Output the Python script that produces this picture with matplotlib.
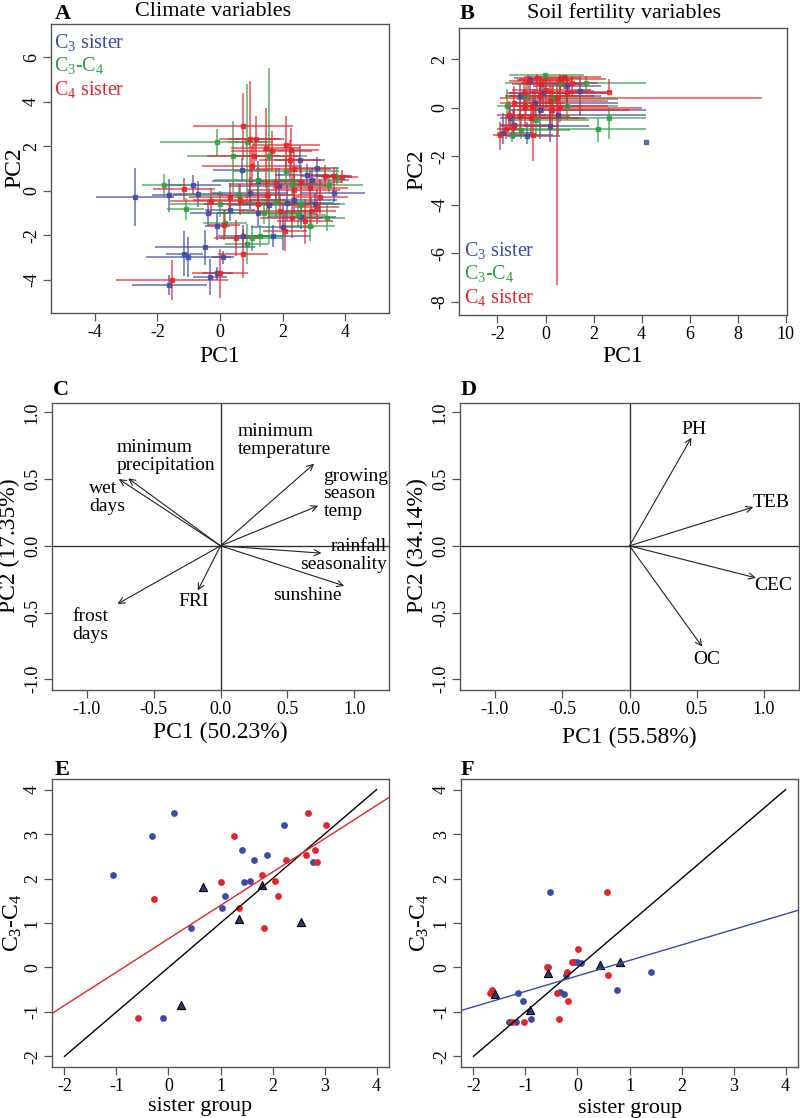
import matplotlib
matplotlib.use('Agg')
import matplotlib.pyplot as plt
import numpy as np

plt.rcParams['font.family'] = ['Liberation Serif', 'DejaVu Serif']
plt.rcParams['mathtext.fontset'] = 'custom'
plt.rcParams['mathtext.rm'] = 'Liberation Serif'
plt.rcParams['mathtext.it'] = 'Liberation Serif:italic'
plt.rcParams['axes.unicode_minus'] = False

BLUE = '#3b4ba6'
GREEN = '#2e9f40'
RED = '#e4232a'
NAVY = '#2b3b80'
FRAME = '#555555'

# ---- panel A: climate PCA, group means with (x, y, dx, dy)
a_c3 = [(-2.72, -0.30, 1.25, 1.3), (-1.62, -0.21, 0.55, 0.75), (-1.14, -2.83, 0.6, 1.0),
        (-1.01, -3.00, 1.35, 0.9), (-1.62, -4.24, 1.2, 0.45), (-0.48, -2.55, 1.6, 0.8),
        (-0.32, -3.88, 0.55, 0.8), (-0.09, -1.60, 0.4, 0.6), (0.11, -2.99, 0.35, 0.3),
        (-0.09, -3.71, 0.5, 0.3), (-0.37, -1.00, 0.6, 0.6), (-0.71, -0.15, 0.8, 0.6),
        (-0.87, 0.24, 0.9, 0.45), (0.69, 0.95, 0.9, 0.5), (0.32, -0.85, 0.8, 0.5),
        (0.96, -0.10, 1.2, 0.7), (1.23, 0.42, 1.5, 0.9), (1.23, -1.00, 1.3, 0.6),
        (0.75, -2.05, 0.8, 0.5), (1.70, -2.05, 1.2, 0.5), (2.00, -1.65, 1.0, 1.0),
        (2.56, 1.40, 0.8, 0.6), (2.77, 0.72, 1.0, 0.5), (3.11, 1.02, 0.7, 0.5),
        (3.63, -0.10, 1.0, 0.4), (2.13, -0.55, 1.5, 0.8), (1.55, -0.63, 1.3, 0.6),
        (2.35, -0.40, 1.4, 0.6), (2.93, 0.50, 1.2, 0.5), (3.05, -0.60, 0.8, 0.5),
        (1.90, 0.20, 1.6, 0.8), (2.60, -1.20, 1.1, 0.5)]
a_c3c4 = [(-1.78, 0.27, 0.7, 0.5), (-1.10, -0.82, 0.6, 0.5), (-0.11, 2.18, 1.8, 0.6),
          (0.43, 1.55, 1.5, 1.6), (0.87, -2.40, 0.7, 0.9), (1.01, -2.13, 1.0, 0.6),
          (1.28, -2.05, 0.8, 0.5), (1.58, 1.55, 1.2, 3.95), (0.00, -0.59, 1.6, 0.6),
          (1.80, -0.50, 1.2, 0.7), (2.30, 0.30, 1.3, 0.5), (2.88, -1.58, 0.8, 0.7),
          (3.41, -1.23, 0.6, 0.6), (3.47, 0.27, 1.1, 0.4), (2.60, -0.60, 1.4, 0.6),
          (0.16, -1.45, 0.7, 0.6), (1.40, -1.00, 1.5, 0.5), (2.50, -1.10, 0.9, 0.5),
          (1.20, 0.50, 1.4, 0.6), (0.87, 2.20, 0.6, 2.6), (3.73, 0.64, 0.5, 0.4),
          (2.10, 0.90, 1.7, 0.6), (0.60, -0.20, 1.8, 0.5)]
a_c4 = [(-1.15, 0.09, 1.0, 0.5), (-1.53, -4.00, 1.8, 0.9), (0.00, -3.71, 0.9, 1.1),
        (-0.29, -0.48, 1.3, 0.6), (0.13, -1.53, 0.5, 0.7), (0.51, -2.13, 0.7, 0.8),
        (0.73, -2.84, 0.8, 1.1), (0.73, 2.90, 1.6, 1.5), (0.96, 2.34, 1.0, 2.6),
        (1.14, 2.34, 0.9, 1.0), (1.46, 1.92, 1.1, 1.8), (1.65, 1.77, 1.3, 0.9),
        (2.11, 2.07, 1.1, 1.3), (2.27, 1.82, 0.9, 1.0), (1.10, 1.55, 1.5, 0.6),
        (1.01, 1.13, 1.6, 0.9), (2.24, 1.40, 1.0, 0.9), (2.35, 0.98, 1.2, 0.8),
        (3.63, 0.68, 0.6, 0.4), (3.36, 0.65, 0.8, 0.5), (2.88, 0.12, 1.2, 0.8),
        (3.20, -0.26, 0.9, 0.8), (2.35, 0.05, 1.5, 0.7), (0.32, -0.26, 1.3, 0.6),
        (0.64, -0.41, 1.5, 0.7), (1.92, -0.93, 1.3, 0.8), (2.29, -1.23, 1.0, 0.9),
        (3.09, -0.71, 0.7, 0.8), (2.72, -1.38, 0.9, 1.0), (2.08, -1.83, 0.7, 0.9),
        (1.50, -0.20, 1.6, 0.7), (2.90, -0.90, 0.8, 0.6), (3.90, 0.64, 0.5, 0.3),
        (1.80, 0.30, 1.5, 0.7), (2.60, 0.40, 1.3, 0.6), (1.20, -0.60, 1.7, 0.5)]

# ---- panel B: soil PCA, (x, y, xlo, xhi, ylo, yhi)
b_c3 = [(4.19, -1.40, 4.19, 4.19, -1.40, -1.40), (1.42, 0.69, 0.8, 2.0, -0.34, 1.30),
        (-1.76, -1.03, -2.0, -0.5, -1.5, -0.2), (-1.48, -0.41, -1.9, 1.4, -0.9, 0.2),
        (-1.07, 0.48, -1.7, 2.3, -0.5, 1.0), (-0.65, 1.17, -1.2, 1.1, 0.3, 1.3),
        (-0.24, -0.07, -1.5, 4.2, -1.3, 0.9), (0.18, -0.76, -0.9, 1.8, -1.4, 0.0),
        (-0.79, -1.17, -1.6, 0.6, -1.5, -0.6), (0.90, 0.90, -0.5, 2.3, 0.2, 1.3),
        (-0.45, 0.20, -1.3, 3.0, -0.4, 0.8), (-0.10, 0.60, -1.5, 2.5, -0.2, 1.2),
        (-1.30, -0.70, -1.9, 0.2, -1.3, 0.0), (0.50, -0.30, -1.0, 4.2, -1.1, 0.4)]
b_c3c4 = [(2.19, -0.85, -1.9, 4.2, -1.4, -0.4), (2.64, -0.41, -1.2, 4.2, -1.3, 0.0),
          (1.67, 1.03, -1.7, 4.2, 0.6, 1.3), (-0.03, 1.37, -1.5, 1.6, 0.8, 1.4),
          (-1.40, -1.10, -2.0, -0.3, -1.4, -0.5), (-0.80, 0.50, -1.7, 1.3, -0.3, 1.1),
          (-0.40, -0.50, -1.3, 1.8, -1.2, 0.3), (-1.60, 0.10, -2.0, 0.5, -0.4, 0.8),
          (0.30, 0.35, -1.2, 3.0, -0.3, 1.0), (0.90, 0.10, -0.6, 3.0, -0.5, 0.8),
          (-1.00, -0.90, -1.8, 1.0, -1.3, -0.3), (0.60, 1.00, -0.8, 1.5, 0.4, 1.4)]
b_c4 = [(2.64, 0.67, -0.7, 2.64, 0.67, 1.2), (0.46, 0.41, -1.89, 9.0, -7.31, 1.17),
        (1.12, 1.03, -1.0, 2.2, 0.5, 1.3), (0.76, 1.26, -0.9, 2.3, 0.8, 1.3),
        (0.60, 1.20, -1.1, 2.5, 0.7, 1.35), (-0.37, 1.24, -1.3, 1.4, 0.6, 1.4),
        (-0.72, 1.10, -1.5, 1.0, 0.3, 1.35), (-1.89, -1.10, -2.2, -1.3, -1.75, -0.6),
        (-1.65, -0.89, -2.0, -1.0, -1.3, -0.3), (-1.34, -0.76, -1.9, 0.5, -1.3, -0.1),
        (-1.07, -0.34, -1.6, 1.0, -1.0, 0.4), (-0.54, -1.10, -1.3, 0.3, -2.2, 0.0),
        (-0.51, 0.07, -1.6, 2.6, -0.6, 0.8), (-0.24, 0.48, -1.5, 2.0, -0.3, 1.2),
        (0.04, 0.76, -1.4, 1.9, 0.0, 1.3), (-0.85, 0.07, -1.7, 1.5, -0.8, 0.8),
        (0.25, -0.07, -1.2, 3.5, -0.9, 0.9), (-0.20, 1.00, -1.4, 1.6, 0.3, 1.3),
        (0.60, 0.00, -1.0, 4.0, -0.6, 1.0), (-1.30, 0.20, -1.9, 0.8, -0.4, 0.9),
        (-0.90, 0.60, -1.6, 1.2, -0.1, 1.2), (0.20, 0.30, -0.9, 2.6, -0.9, 1.1),
        (-0.60, -0.40, -1.7, 1.7, -1.1, 0.2), (-1.50, -0.30, -2.0, 0.0, -0.9, 0.3),
        (0.90, 0.60, -0.4, 2.6, 0.0, 1.2)]

# ---- panel C: climate loadings
c_vars = ['minimum precipitation', 'wet days', 'minimum temperature', 'growing season temp',
          'rainfall seasonality', 'sunshine', 'FRI', 'frost days']
c_x = [-0.69, -0.76, 0.70, 0.73, 0.755, 0.925, -0.17, -0.77]
c_y = [0.505, 0.50, 0.615, 0.30, -0.055, -0.30, -0.335, -0.435]
c_labels = ['minimum\nprecipitation', 'wet\ndays', 'minimum\ntemperature', 'growing\nseason\ntemp',
            'rainfall\nseasonality', 'sunshine', 'FRI', 'frost\ndays']
c_lab_x = [-0.775, -0.98, 0.13, 0.77, 1.245, 0.395, -0.2, -1.11]
c_lab_y = [0.67, 0.36, 0.79, 0.39, -0.07, -0.375, -0.42, -0.595]
c_lab_ha = ['left', 'left', 'left', 'left', 'right', 'left', 'center', 'left']

# ---- panel D: soil loadings
d_vars = ['PH', 'TEB', 'CEC', 'OC']
d_x = [0.46, 0.92, 0.94, 0.54]
d_y = [0.81, 0.29, -0.24, -0.755]
d_lab_x = [0.48, 1.055, 1.07, 0.575]
d_lab_y = [0.87, 0.325, -0.30, -0.85]

# ---- panel E: climate scores, sister group vs C3-C4
e_c3_x = [0.11, -0.32, -1.07, 0.43, -0.10, 1.02, 1.08, 1.41, 1.45, 1.56, 1.65, 1.89, 2.23, 2.78]
e_c3_y = [3.47, 2.96, 2.09, 0.88, -1.14, 1.33, 1.60, 2.65, 1.92, 1.95, 2.42, 2.52, 3.20, 2.37]
e_c4_x = [2.69, 3.03, 1.25, 2.65, 2.81, 2.86, 2.25, 1.00, 1.80, 2.05, 2.10, 1.35, 1.83, -0.28, -0.59]
e_c4_y = [3.47, 3.20, 2.96, 2.52, 2.65, 2.37, 2.42, 1.92, 2.09, 1.95, 1.60, 1.33, 0.88, 1.53, -1.14]
e_tri_x = [0.66, 1.79, 1.35, 2.55, 0.25]
e_tri_y = [1.82, 1.86, 1.10, 1.02, -0.85]
e_fit = (0.645, 0.75)

# ---- panel F: soil scores
f_c3_x = [-0.53, 1.42, 0.76, -0.57, -0.23, -0.07, -0.01, 0.06, -1.14, -1.05, -0.89, -1.31, -1.19, -0.34, -0.26]
f_c3_y = [1.70, -0.11, -0.50, 0.00, -0.17, 0.12, 0.12, 0.11, -0.58, -0.75, -1.15, -1.22, -1.22, -0.55, -0.59]
f_c4_x = [0.57, 0.01, 0.59, -0.10, -0.21, -0.18, -0.39, -0.35, -0.59, -1.03, -1.25, -1.65, -1.68]
f_c4_y = [1.70, 0.41, -0.17, 0.12, -0.11, -0.75, -0.58, -1.15, 0.00, -1.22, -1.22, -0.50, -0.58]
f_tri_x = [-1.59, -0.91, -0.56, 0.44, 0.81]
f_tri_y = [-0.60, -0.95, -0.13, 0.06, 0.12]
f_fit = (-0.19, 0.348)

W, H = 800, 1118
fig = plt.figure(figsize=(W / 100, H / 100), dpi=100)

TICK = 13
LAB = 17


def add_ax(l, t, r, b):
    ax = fig.add_axes([l / W, 1 - b / H, (r - l) / W, (b - t) / H])
    for s in ax.spines.values():
        s.set_color(FRAME)
        s.set_linewidth(1.0)
    ax.tick_params(direction='out', length=6, width=0.9, color=FRAME, labelsize=TICK, pad=2)
    ax.tick_params(axis='y', labelrotation=90)
    return ax


def fix_y(ax):
    for lab in ax.get_yticklabels():
        lab.set_va('center')


def ftext(x, y, s, **kw):
    fig.text(x / W, 1 - y / H, s, **kw)


def cross(ax, pts, color):
    p = np.array(pts)
    ax.errorbar(p[:, 0], p[:, 1], xerr=p[:, 2], yerr=p[:, 3], fmt='s', ms=2.6,
                color=color, ecolor=color, elinewidth=1.1, capsize=0, alpha=0.8)


def cross_rng(ax, pts, color):
    p = np.array(pts)
    xe = [p[:, 0] - p[:, 2], p[:, 3] - p[:, 0]]
    ye = [p[:, 1] - p[:, 4], p[:, 5] - p[:, 1]]
    ax.errorbar(p[:, 0], p[:, 1], xerr=xe, yerr=ye, fmt='s', ms=2.6,
                color=color, ecolor=color, elinewidth=1.1, capsize=0, alpha=0.8)


legend_txt = [r'C$_3$ sister', r'C$_3$-C$_4$', r'C$_4$ sister']
legend_col = [BLUE, GREEN, RED]

# A
ax = add_ax(51, 24, 389, 313)
cross(ax, a_c3, BLUE)
cross(ax, a_c3c4, GREEN)
cross(ax, a_c4, RED)
ax.set_xlim(-5.4, 5.4)
ax.set_ylim(-5.5, 7.5)
ax.set_xticks([-4, -2, 0, 2, 4])
ax.set_yticks([-4, -2, 0, 2, 4, 6])
fix_y(ax)
for i, (t, c) in enumerate(zip(legend_txt, legend_col)):
    ax.text(0.01, 0.935 - i * 0.08, t, color=c, fontsize=14.5, transform=ax.transAxes, va='center')
ftext(15, 168, 'PC2', fontsize=LAB, rotation=90, ha='center', va='center')
ftext(220, 356, 'PC1', fontsize=LAB, ha='center', va='center')
ftext(213, 11, 'Climate variables', fontsize=16, ha='center', va='center')
ftext(55, 14, 'A', fontsize=16, fontweight='bold', ha='left', va='center')

# B
ax = add_ax(459, 28, 787, 315)
cross_rng(ax, b_c3, BLUE)
cross_rng(ax, b_c3c4, GREEN)
cross_rng(ax, b_c4, RED)
ax.set_xlim(-3.6, 10.05)
ax.set_ylim(-8.55, 3.3)
ax.set_xticks([-2, 0, 2, 4, 6, 8, 10])
ax.set_yticks([-8, -6, -4, -2, 0, 2])
fix_y(ax)
for i, (t, c) in enumerate(zip(legend_txt, legend_col)):
    ax.text(0.015, 0.225 - i * 0.082, t, color=c, fontsize=14.5, transform=ax.transAxes, va='center')
ftext(417, 170, 'PC2', fontsize=LAB, rotation=90, ha='center', va='center')
ftext(623, 356, 'PC1', fontsize=LAB, ha='center', va='center')
ftext(624, 13, 'Soil fertility variables', fontsize=16, ha='center', va='center')
ftext(460, 14, 'B', fontsize=16, fontweight='bold', ha='left', va='center')


def loadings(ax, xs, ys):
    ax.axhline(0, color='#333333', lw=1.0)
    ax.axvline(0, color='#333333', lw=1.0)
    for x, y in zip(xs, ys):
        ax.annotate('', xy=(x, y), xytext=(0, 0),
                    arrowprops=dict(arrowstyle='->', lw=0.8, color='#222222',
                                    mutation_scale=11, shrinkA=0, shrinkB=0))
    ax.set_xlim(-1.26, 1.26)
    ax.set_ylim(-1.08, 1.07)
    ax.set_xticks([-1.0, -0.5, 0.0, 0.5, 1.0])
    ax.set_yticks([-1.0, -0.5, 0.0, 0.5, 1.0])
    ax.set_xticklabels(['-1.0', '-0.5', '0.0', '0.5', '1.0'])
    ax.set_yticklabels(['-1.0', '-0.5', '0.0', '0.5', '1.0'])
    fix_y(ax)


# C
ax = add_ax(52, 403, 389, 690)
loadings(ax, c_x, c_y)
for s, x, y, ha in zip(c_labels, c_lab_x, c_lab_y, c_lab_ha):
    ax.text(x, y, s, fontsize=14, ha=ha, va='center', multialignment=ha, linespacing=1.05)
ftext(9, 546, 'PC2 (17.35%)', fontsize=LAB, rotation=90, ha='center', va='center')
ftext(220, 732, 'PC1 (50.23%)', fontsize=LAB, ha='center', va='center')
ftext(53, 390, 'C', fontsize=16, fontweight='bold', ha='left', va='center')

# D
ax = add_ax(460, 403, 799, 690)
loadings(ax, d_x, d_y)
for s, x, y in zip(d_vars, d_lab_x, d_lab_y):
    ax.text(x, y, s, fontsize=14, ha='center', va='center')
ftext(417, 546, 'PC2 (34.14%)', fontsize=LAB, rotation=90, ha='center', va='center')
ftext(629, 737, 'PC1 (55.58%)', fontsize=LAB, ha='center', va='center')
ftext(461, 390, 'D', fontsize=16, fontweight='bold', ha='left', va='center')


def scores(ax, c3x, c3y, c4x, c4y, tx, ty, fit, fitcol):
    ax.scatter(c3x, c3y, s=24, color=BLUE, lw=0, zorder=3)
    ax.scatter(c4x, c4y, s=24, color=RED, lw=0, zorder=3)
    ax.scatter(tx, ty, s=34, marker='^', facecolor=NAVY, edgecolor='black', lw=0.8, zorder=4)
    ax.plot([-2, 4], [-2, 4], color='black', lw=1.0, zorder=5)
    ax.axline((0, fit[0]), slope=fit[1], color=fitcol, lw=1.0, zorder=5)
    ax.set_xlim(-2.24, 4.24)
    ax.set_ylim(-2.24, 4.24)
    ax.set_xticks(range(-2, 5))
    ax.set_yticks(range(-2, 5))
    fix_y(ax)


# E
ax = add_ax(52, 779, 389, 1067)
scores(ax, e_c3_x, e_c3_y, e_c4_x, e_c4_y, e_tri_x, e_tri_y, e_fit, RED)
ftext(13, 923, r'C$_3$-C$_4$', fontsize=LAB, rotation=90, ha='center', va='center')
ftext(200, 1107, 'sister group', fontsize=16, ha='center', va='center')
ftext(55, 770, 'E', fontsize=16, fontweight='bold', ha='left', va='center')

# F
ax = add_ax(461, 779, 798, 1067)
scores(ax, f_c3_x, f_c3_y, f_c4_x, f_c4_y, f_tri_x, f_tri_y, f_fit, BLUE)
ftext(420, 923, r'C$_3$-C$_4$', fontsize=LAB, rotation=90, ha='center', va='center')
ftext(630, 1108, 'sister group', fontsize=16, ha='center', va='center')
ftext(461, 770, 'F', fontsize=16, fontweight='bold', ha='left', va='center')

fig.savefig('out.png', dpi=100)
